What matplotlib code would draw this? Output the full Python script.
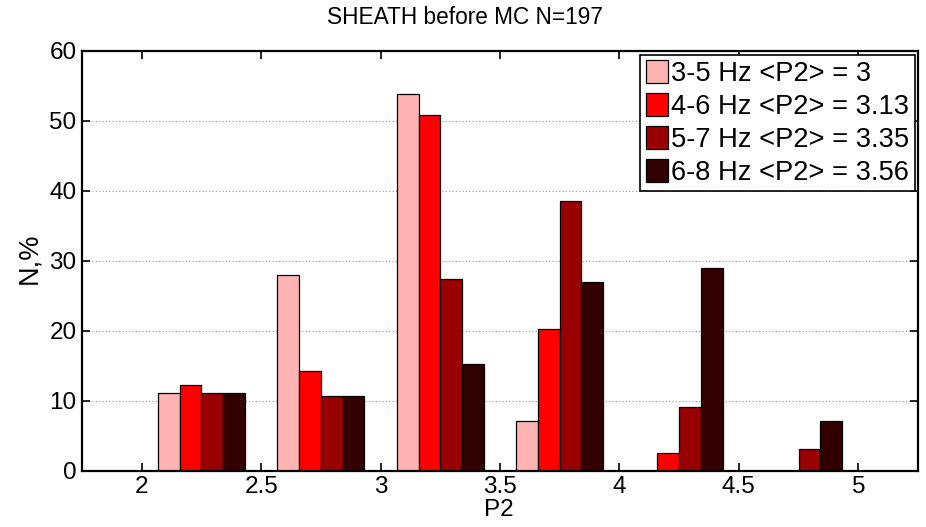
import numpy as np
import matplotlib.pyplot as plt

plt.rcParams['font.family'] = ['Liberation Sans', 'DejaVu Sans']

# bin centres of P2 and percentage of events in each band
p2_bins = [2.25, 2.75, 3.25, 3.75, 4.25, 4.75]
band_labels = ['3-5 Hz <P2> = 3', '4-6 Hz <P2> = 3.13',
               '5-7 Hz <P2> = 3.35', '6-8 Hz <P2> = 3.56']
pct_3_5 = [11.17, 27.92, 53.81, 7.11, 0.0, 0.0]
pct_4_6 = [12.18, 14.21, 50.76, 20.30, 2.54, 0.0]
pct_5_7 = [11.17, 10.66, 27.41, 38.58, 9.14, 3.05]
pct_6_8 = [11.17, 10.66, 15.23, 26.90, 28.93, 7.11]
colors = ['#ffb3b3', '#ff0000', '#990000', '#330000']

series = [pct_3_5, pct_4_6, pct_5_7, pct_6_8]

fig = plt.figure(figsize=(9.26, 5.27), dpi=100)
ax = fig.add_axes([82 / 926, 1 - 470.7 / 527, (918 - 82) / 926, (470.7 - 50.7) / 527])

group_w = 0.5 * 4 / 5.5
bar_w = group_w / 4
x = np.array(p2_bins)
for i, (vals, c, lab) in enumerate(zip(series, colors, band_labels)):
    offs = -group_w / 2 + bar_w * (i + 0.5)
    ax.bar(x + offs, vals, width=bar_w, color=c, edgecolor='black',
           linewidth=0.9, label=lab, zorder=3)

ax.set_xlim(1.75, 5.25)
ax.set_ylim(0, 60)
ax.set_xticks([2, 2.5, 3, 3.5, 4, 4.5, 5])
ax.set_xticklabels(['2', '2.5', '3', '3.5', '4', '4.5', '5'])
ax.set_yticks(range(0, 61, 10))
ax.yaxis.grid(True, linestyle=(0, (1, 2)), color='#999999', linewidth=0.8, zorder=0)
ax.tick_params(direction='in', length=6, width=1.2, labelsize=17.5,
               top=True, right=True, pad=4)
for s in ax.spines.values():
    s.set_linewidth(1.6)
    s.set_zorder(5)

fig.text(465 / 926, 1 - 17 / 527, 'SHEATH before MC N=197', ha='center',
         va='center', fontsize=16.3)
fig.text(499 / 926, 1 - 510 / 527, 'P2', ha='center', va='center', fontsize=17.5)
fig.text(29 / 926, 1 - 258 / 527, 'N,%', ha='center', va='center',
         rotation=90, fontsize=19.5)

leg = ax.legend(loc='upper right', bbox_to_anchor=(915 / 926, 1 - 55 / 527),
                bbox_transform=fig.transFigure, borderaxespad=0, fontsize=19.6,
                handlelength=0.82, handleheight=0.92, handletextpad=0.12,
                labelspacing=0.22, borderpad=0.2, fancybox=False, framealpha=1)
leg.get_frame().set_edgecolor('black')
leg.get_frame().set_linewidth(1.2)

fig.savefig('out.png', dpi=100)
